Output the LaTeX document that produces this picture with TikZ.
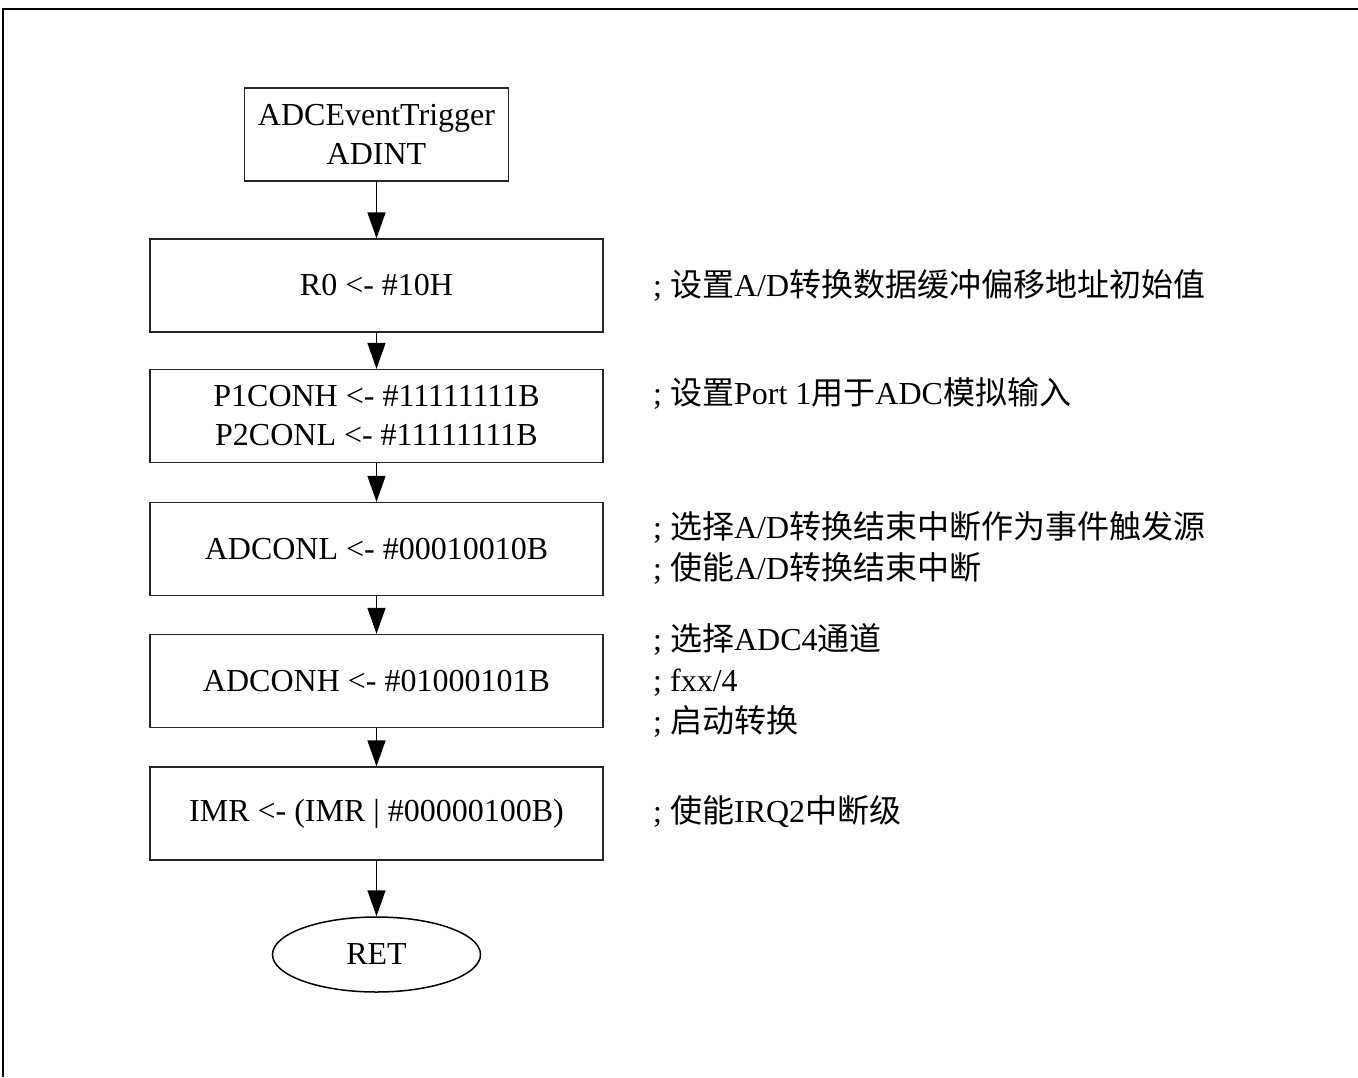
\documentclass[tikz,border=0pt]{standalone}
\usepackage{fontspec}
\setmainfont{Liberation Serif}
\newfontfamily\cjk{Noto Sans CJK SC}
\usetikzlibrary{shapes.geometric, positioning, arrows.meta}
\newcommand{\zh}[1]{{\cjk #1}}

\begin{document}
\begin{tikzpicture}[x=1pt, y=-1pt,
        every node/.style={font=\fontsize{32}{39}\selectfont},
        stepbox/.style={draw=black!85, line width=1.3pt, minimum width=453pt, minimum height=93pt, inner sep=0pt, align=center},
        note/.style={anchor=west, align=left, inner sep=0pt, font=\fontsize{32}{41}\selectfont},
        flow/.style={-{Triangle[length=26pt,width=18pt]}, line width=1.5pt}]
        \useasboundingbox (0,0) rectangle (1358,1077);
        % frame, cut off on the right and at the bottom
        \draw[line width=2pt] (3,1077) -- (3,9) -- (1358,9);
        % flow
        \node[stepbox, minimum width=264pt] (trig) at (376.5,134.5) {ADCEventTrigger\\ADINT};
        \node[stepbox] (r0) at (376.5,285.5) {R0 <- \#10H};
        \node[stepbox] (p1) at (376.5,416) {P1CONH <- \#11111111B\\P2CONL <- \#11111111B};
        \node[stepbox] (adl) at (376.5,549) {ADCONL <- \#00010010B};
        \node[stepbox] (adh) at (376.5,681) {ADCONH <- \#01000101B};
        \node[stepbox] (imr) at (376.5,813.5) {IMR <- (IMR | \#00000100B)};
        \node[draw, ellipse, line width=1.5pt, minimum width=208pt, minimum height=75pt, inner sep=0pt] (ret) at (376.5,954.5) {RET};
        \draw[flow] (trig) -- (r0);
        \draw[flow] (r0) -- (p1);
        \draw[flow] (p1) -- (adl);
        \draw[flow] (adl) -- (adh);
        \draw[flow] (adh) -- (imr);
        \draw[flow] (imr) -- (ret);
        % comments
        \node[note] (n1) at (653,285) {; \zh{设置}A/D\zh{转换数据缓冲偏移地址初始值}};
        \node[note] (n2) at (653,393) {; \zh{设置}Port 1\zh{用于}ADC\zh{模拟输入}};
        \node[note] (n3) at (653,548) {; \zh{选择}A/D\zh{转换结束中断作为事件触发源}\\; \zh{使能}A/D\zh{转换结束中断}};
        \node[note] (n4) at (653,680) {; \zh{选择}ADC4\zh{通道}\\; fxx/4\\; \zh{启动转换}};
        \node[note] (n5) at (653,812) {; \zh{使能}IRQ2\zh{中断级}};
\end{tikzpicture}
\end{document}
